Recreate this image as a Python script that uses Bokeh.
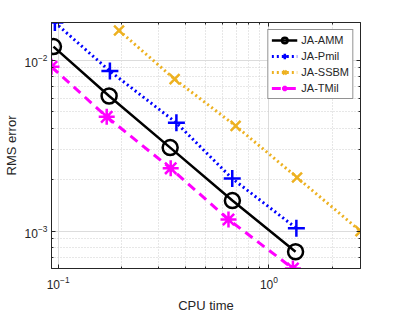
from bokeh.plotting import figure
from bokeh.models import Range1d, LogAxis, FixedTicker, LogTickFormatter, CustomJSTickFormatter, Legend, LegendItem
from bokeh.embed import file_html
from bokeh.resources import INLINE

# data
x_amm = [0.095, 0.1745, 0.340, 0.671, 1.338]
y_amm = [0.0120, 0.00617, 0.00308, 0.00151, 7.58e-4]
x_pmil = [0.0965, 0.176, 0.364, 0.67, 1.35]
y_pmil = [0.0166, 0.00863, 0.0043, 0.00203, 1.04e-3]
x_ssbm = [0.1945, 0.357, 0.695, 1.36, 2.72]
y_ssbm = [0.0149, 0.00774, 0.00413, 0.00206, 1.0e-3]
x_tmil = [0.093, 0.170, 0.342, 0.643, 1.30]
y_tmil = [0.00915, 0.00466, 0.00233, 0.00117, 6.05e-4]
labels = ["JA-AMM", "JA-Pmil", "JA-SSBM", "JA-TMil"]
x_major = [0.1, 1.0]
y_major = [1e-3, 1e-2]

FONT = "Liberation Sans"

def minors(decades):
    out = []
    for d in decades:
        for m in range(2, 10):
            out.append(m * d)
    return out

x_minor = minors([0.01, 0.1, 1.0])
y_minor = minors([1e-4, 1e-3, 1e-2])

p = figure(frame_width=309, frame_height=246, x_axis_type="log", y_axis_type="log",
           x_range=Range1d(0.093, 2.72), y_range=Range1d(6.05e-4, 0.0166),
           output_backend="svg", toolbar_location=None,
           min_border_left=44, min_border_right=30, min_border_top=22, min_border_bottom=37)

xt = FixedTicker(ticks=x_major, minor_ticks=x_minor)
yt = FixedTicker(ticks=y_major, minor_ticks=y_minor)
p.xaxis[0].ticker = xt
p.yaxis[0].ticker = yt
p.xaxis[0].formatter = LogTickFormatter()
p.yaxis[0].formatter = LogTickFormatter()
p.xgrid[0].ticker = xt
p.ygrid[0].ticker = yt

p.xaxis.axis_label = "CPU time"
p.yaxis.axis_label = "RMS error"
for ax in [p.xaxis[0], p.yaxis[0]]:
    ax.axis_label_text_font = FONT
    ax.axis_label_text_font_size = "13px"
    ax.axis_label_text_font_style = "normal"
    ax.axis_label_text_color = "#262626"
    ax.major_label_text_font = FONT
    ax.major_label_text_font_size = "12px"
    ax.major_label_text_color = "#262626"
    ax.major_tick_in = 4
    ax.major_tick_out = 0
    ax.minor_tick_in = 2
    ax.minor_tick_out = 0
    ax.axis_line_color = "#262626"
    ax.major_tick_line_color = "#262626"
    ax.minor_tick_line_color = "#262626"
    ax.axis_label_standoff = 3
    ax.major_label_standoff = 4
p.xaxis[0].major_label_standoff = 7
p.xaxis[0].axis_label_standoff = 6

blank = CustomJSTickFormatter(code="return '';")
a = LogAxis(ticker=yt, formatter=blank,
            major_tick_in=4, major_tick_out=0, minor_tick_in=2, minor_tick_out=0,
            major_label_text_font_size="1px", major_label_standoff=0,
            axis_line_color="#262626", major_tick_line_color="#262626",
            minor_tick_line_color="#262626")
p.add_layout(a, "right")
a = LogAxis(ticker=xt, formatter=blank,
            major_tick_in=4, major_tick_out=0, minor_tick_in=2, minor_tick_out=0,
            major_label_text_font_size="1px", major_label_standoff=0,
            axis_line_color="#262626", major_tick_line_color="#262626",
            minor_tick_line_color="#262626")
p.add_layout(a, "above")

for g in [p.xgrid[0], p.ygrid[0]]:
    g.grid_line_color = "#dcdcdc"
    g.grid_line_alpha = 1.0
    g.minor_grid_line_color = "#cfcfcf"
    g.minor_grid_line_dash = "1 2"
    g.minor_grid_line_alpha = 1.0

p.outline_line_color = "#262626"
p.background_fill_color = "white"

items = []
r1 = p.line(x_amm, y_amm, line_color="black", line_width=2.5)
m1 = p.scatter(x_amm, y_amm, marker="circle", size=15, fill_color=None, line_color="black", line_width=2.5)
items.append(LegendItem(label=labels[0], renderers=[r1, m1]))

r2 = p.line(x_pmil, y_pmil, line_color="#0000ff", line_width=3, line_dash="2 3")
m2 = p.scatter(x_pmil, y_pmil, marker="cross", size=17, line_color="#0000ff", line_width=2.5)
items.append(LegendItem(label=labels[1], renderers=[r2, m2]))

r3 = p.line(x_ssbm, y_ssbm, line_color="#EDB120", line_width=3, line_dash="2 3")
m3 = p.scatter(x_ssbm, y_ssbm, marker="x", size=14, line_color="#EDB120", line_width=2.5)
items.append(LegendItem(label=labels[2], renderers=[r3, m3]))

r4 = p.line(x_tmil, y_tmil, line_color="#ff00ff", line_width=3, line_dash="9 6")
m4 = p.scatter(x_tmil, y_tmil, marker="asterisk", size=16, line_color="#ff00ff", line_width=2.5)
items.append(LegendItem(label=labels[3], renderers=[r4, m4]))

legend = Legend(items=items, location="top_right",
                label_text_font=FONT, label_text_font_size="11px", label_text_color="#262626",
                border_line_color="#262626", border_line_width=1,
                background_fill_color="white", background_fill_alpha=1.0,
                glyph_width=26, glyph_height=14, label_height=14, spacing=2,
                padding=3, margin=7, label_standoff=4)
p.add_layout(legend)

open("out.html", "w").write(file_html(p, INLINE))
